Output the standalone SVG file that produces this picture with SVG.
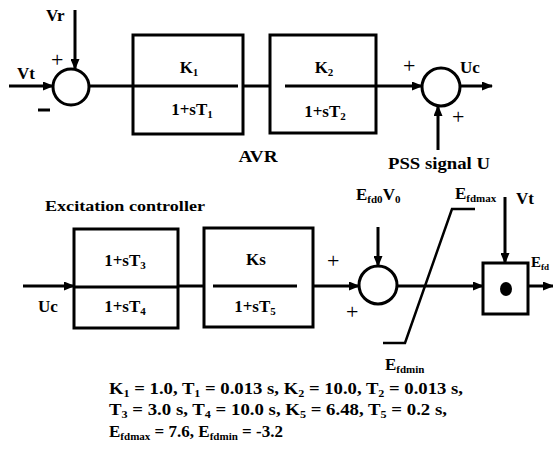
<svg xmlns="http://www.w3.org/2000/svg" width="553" height="449" viewBox="0 0 553 449">
<style>
text{font-family:"Liberation Serif","Times New Roman",serif;font-weight:bold;fill:#000;font-size:17px}
.sub{font-size:11px}
.box{fill:none;stroke:#000;stroke-width:3}
.ln{fill:none;stroke:#000;stroke-width:3}
.arr{fill:none;stroke:#000;stroke-width:3;marker-end:url(#ah)}
.c{text-anchor:middle}
.sg{font-size:22px;font-weight:normal}
.eq{font-size:17px}
</style>
<defs>
<marker id="ah" markerUnits="userSpaceOnUse" markerWidth="11" markerHeight="9" refX="10" refY="4.5" orient="auto">
<path d="M0,0 L11,4.5 L0,9 z" fill="#000"/>
</marker>
</defs>
<rect width="553" height="449" fill="#fff"/>

<g id="connectors">
<line class="arr" x1="9" y1="86" x2="53" y2="86"/>
<line class="arr" x1="75" y1="10" x2="75" y2="69"/>
<line class="ln" x1="89" y1="86" x2="238" y2="86"/>
<line class="ln" x1="243" y1="86" x2="270" y2="86"/>
<line class="arr" x1="285" y1="86" x2="422" y2="86"/>
<line class="arr" x1="460" y1="86" x2="492" y2="86"/>
<line class="arr" x1="438" y1="150" x2="438" y2="106"/>
<line class="arr" x1="23" y1="286" x2="74" y2="286"/>
<line class="ln" x1="178" y1="286" x2="204" y2="286"/>
<line class="ln" x1="213" y1="286" x2="297" y2="286"/>
<line class="arr" x1="313" y1="286" x2="359" y2="286"/>
<line class="arr" x1="378" y1="227" x2="378" y2="266"/>
<line class="arr" x1="397" y1="286" x2="483" y2="286"/>
<line class="arr" x1="505" y1="197" x2="505" y2="263"/>
<line class="arr" x1="528" y1="286" x2="553" y2="286"/>
</g>

<g id="sum1">
<circle class="box" cx="71" cy="87" r="18"/>
<text class="sg" x="51" y="67">+</text>
<line class="ln" x1="38" y1="110" x2="50" y2="110"/>
</g>
<text id="label-vr" x="46" y="21">Vr</text>
<text id="label-vt" x="17" y="79">Vt</text>

<g id="block-k1">
<rect class="box" x="133" y="35" width="110" height="99"/>
<text class="c" x="189" y="73">K<tspan class="sub" dy="3">1</tspan></text>
<text class="c" x="192" y="115">1+sT<tspan class="sub" dy="3">1</tspan></text>
</g>
<g id="block-k2">
<rect class="box" x="270" y="35" width="106" height="98"/>
<text class="c" x="324" y="73">K<tspan class="sub" dy="3">2</tspan></text>
<text class="c" x="325" y="117">1+sT<tspan class="sub" dy="3">2</tspan></text>
</g>
<text id="label-avr" class="c" x="258" y="162" textLength="39" lengthAdjust="spacingAndGlyphs">AVR</text>

<g id="sum2">
<circle class="box" cx="441" cy="87" r="19"/>
<text class="sg" x="403" y="73">+</text>
<text class="sg" x="452" y="124">+</text>
</g>
<text id="label-uc-top" x="460" y="73">Uc</text>
<text id="label-pss" x="388" y="169" textLength="102" lengthAdjust="spacingAndGlyphs">PSS signal U</text>

<text id="label-exc" x="45" y="211" style="font-size:15px" textLength="160" lengthAdjust="spacingAndGlyphs">Excitation controller</text>
<text id="label-uc-bot" x="38" y="312">Uc</text>

<g id="block-lead-lag">
<rect class="box" x="74" y="229" width="104" height="99"/>
<line class="ln" x1="74" y1="287" x2="178" y2="287"/>
<text class="c" x="125" y="266">1+sT<tspan class="sub" dy="3">3</tspan></text>
<text class="c" x="125" y="312">1+sT<tspan class="sub" dy="3">4</tspan></text>
</g>
<g id="block-ks">
<rect class="box" x="204" y="228" width="109" height="99"/>
<text class="c" x="256" y="265">Ks</text>
<text class="c" x="255" y="312">1+sT<tspan class="sub" dy="3">5</tspan></text>
</g>

<g id="sum3">
<circle class="box" cx="378" cy="285" r="19"/>
<text class="sg" x="327" y="268">+</text>
<text class="sg" x="346" y="319">+</text>
</g>
<text id="label-efd0" x="356" y="200">E<tspan class="sub" dy="3">fd0</tspan><tspan dy="-3">V</tspan><tspan class="sub" dy="3">0</tspan></text>

<g id="limiter">
<polyline class="ln" style="stroke-width:2.5" points="475,209 452,209 405,343 383,343"/>
<text x="455" y="199">E<tspan class="sub" dy="3">fdmax</tspan></text>
<text x="385" y="370">E<tspan class="sub" dy="3">fdmin</tspan></text>
</g>

<g id="multiplier">
<rect class="box" x="483" y="263" width="45" height="51"/>
<ellipse cx="506" cy="289" rx="6" ry="7" fill="#000"/>
</g>
<text id="label-vt2" x="516" y="204">Vt</text>
<text id="label-efd" x="531" y="267" style="font-size:15px">E<tspan style="font-size:9px" dy="3">fd</tspan></text>

<g id="params">
<text class="eq" x="109" y="394" textLength="354" lengthAdjust="spacingAndGlyphs">K<tspan class="sub" dy="3">1</tspan><tspan dy="-3"> = 1.0, T</tspan><tspan class="sub" dy="3">1</tspan><tspan dy="-3"> = 0.013 s, K</tspan><tspan class="sub" dy="3">2</tspan><tspan dy="-3"> = 10.0, T</tspan><tspan class="sub" dy="3">2</tspan><tspan dy="-3"> = 0.013 s,</tspan></text>
<text class="eq" x="109" y="415" textLength="338" lengthAdjust="spacingAndGlyphs">T<tspan class="sub" dy="3">3</tspan><tspan dy="-3"> = 3.0 s, T</tspan><tspan class="sub" dy="3">4</tspan><tspan dy="-3"> = 10.0 s, K</tspan><tspan class="sub" dy="3">5</tspan><tspan dy="-3"> = 6.48, T</tspan><tspan class="sub" dy="3">5</tspan><tspan dy="-3"> = 0.2 s,</tspan></text>
<text class="eq" x="109" y="437" textLength="174" lengthAdjust="spacingAndGlyphs">E<tspan class="sub" dy="3">fdmax</tspan><tspan dy="-3"> = 7.6, E</tspan><tspan class="sub" dy="3">fdmin</tspan><tspan dy="-3"> = -3.2</tspan></text>
</g>
</svg>
